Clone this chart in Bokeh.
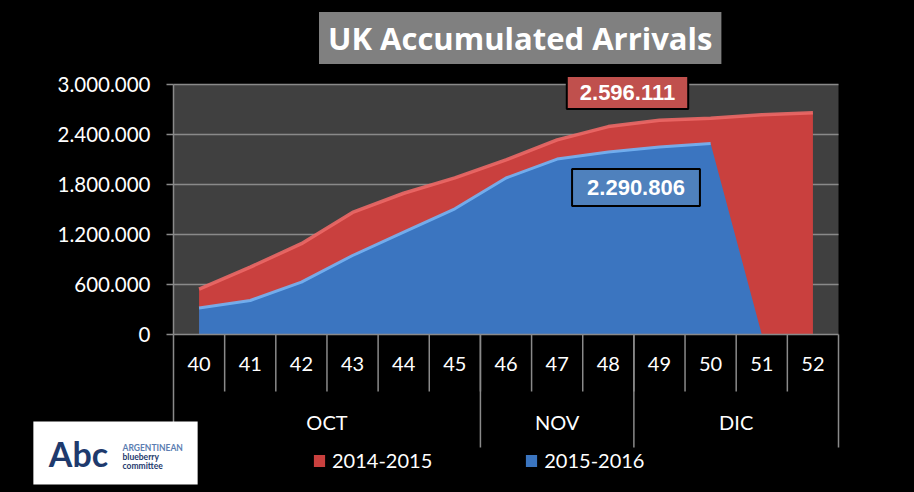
from bokeh.plotting import figure
from bokeh.models import Range1d, FixedTicker, CustomJSTickFormatter, Label
from bokeh.core.properties import value
from bokeh.embed import file_html
from bokeh.resources import INLINE

# ---------------- data ----------------
weeks = ["40", "41", "42", "43", "44", "45", "46", "47", "48", "49", "50", "51", "52"]
months = ["OCT", "NOV", "DIC"]
weeks_per_month = [6, 3, 4]
series_names = ["2014-2015", "2015-2016"]
season_2014_2015 = [545000, 808000, 1090000, 1465000, 1695000, 1880000, 2095000,
                    2335000, 2495000, 2572000, 2596111, 2636000, 2660000]
season_2015_2016 = [318000, 408000, 628000, 948000, 1228000, 1508000, 1878000,
                    2105000, 2190000, 2250000, 2290806, 0, None]
y_ticks = [0, 600000, 1200000, 1800000, 2400000, 3000000]
y_tick_labels = ["0", "600.000", "1.200.000", "1.800.000", "2.400.000", "3.000.000"]
title_text = "UK Accumulated Arrivals"
callout_week = "50"

# ---------------- style / layout ----------------
RED = "#C9403E"
RED_HI = "#EC6866"
BLUE = "#3B75C0"
BLUE_HI = "#74B4F4"
GRID = "#8A8A8A"
PLOT_BG = "#404040"
FONT = "Lato"

W, H = 914, 492
CAT_W = 51.154          # px per week category
Y_PER_PX = 12000        # data units per px
REF_LEFT, REF_ZERO = 173, 334   # pixel of x=-0.5 and of y=0


def dx(px):
    return (px - REF_LEFT) / CAT_W - 0.5


def dy(py):
    return (REF_ZERO - py) * Y_PER_PX


n = len(weeks)
x_lo, x_hi = -0.5, n - 0.5
p = figure(width=W, height=H,
           x_range=Range1d(dx(0), dx(W)), y_range=Range1d(dy(H), dy(0)),
           x_axis_location=None, toolbar_location=None, output_backend="svg",
           min_border=0, background_fill_color="black", border_fill_color="black",
           outline_line_color=None)

# plot-area background
p.quad(left=x_lo, right=x_hi, bottom=0, top=y_ticks[-1], fill_color=PLOT_BG,
       line_color=None, level="image")

# y axis (placed at the category axis start)
p.yaxis.fixed_location = x_lo
p.yaxis.ticker = FixedTicker(ticks=y_ticks)
p.yaxis.formatter = CustomJSTickFormatter(
    args=dict(tvals=y_ticks, tlabels=y_tick_labels),
    code="const i = tvals.indexOf(tick); return i < 0 ? '' : tlabels[i];")
p.yaxis.axis_line_color = None
p.yaxis.major_tick_line_color = GRID
p.yaxis.major_tick_line_width = 1.5
p.yaxis.major_tick_out = 7
p.yaxis.major_tick_in = 0
p.yaxis.minor_tick_line_color = None
p.yaxis.major_label_text_color = "white"
p.yaxis.major_label_text_font = FONT
p.yaxis.major_label_text_font_size = "20.5px"
p.yaxis.major_label_standoff = 16
p.ygrid.grid_line_color = None
p.xgrid.grid_line_color = None

# horizontal grid lines inside the plot area
g_ticks = y_ticks[1:]
p.segment(x0=[x_lo] * len(g_ticks), y0=g_ticks, x1=[x_hi] * len(g_ticks), y1=g_ticks,
          line_color=GRID, line_width=1.5)

# areas
idx = list(range(n))
p.varea(x=idx, y1=0, y2=season_2014_2015, fill_color=RED, legend_label=series_names[0])
b_idx = [i for i, v in enumerate(season_2015_2016) if v is not None]
b_val = [season_2015_2016[i] for i in b_idx]
p.varea(x=b_idx, y1=0, y2=b_val, fill_color=BLUE, legend_label=series_names[1])

# bevel highlights along the tops
p.line(idx, season_2014_2015, line_color=RED_HI, line_width=3.5, line_alpha=0.9)
top_b = [i for i in b_idx if season_2015_2016[i] > 0]
p.line(top_b, [season_2015_2016[i] for i in top_b], line_color=BLUE_HI,
       line_width=3, line_alpha=0.9)

# axis lines
p.segment(x0=[x_lo], y0=[0], x1=[x_hi], y1=[0], line_color=GRID, line_width=1.5)
p.segment(x0=[x_lo], y0=[0], x1=[x_lo], y1=[y_ticks[-1]], line_color=GRID, line_width=1.5)

# category axis (two levels)
short_x = [i + 0.5 for i in range(n - 1)]
p.segment(x0=short_x, y0=[0] * len(short_x), x1=short_x, y1=[dy(391)] * len(short_x),
          line_color=GRID, line_width=1.5)
bounds = [x_lo]
for c in weeks_per_month:
    bounds.append(bounds[-1] + c)
p.segment(x0=bounds, y0=[0] * len(bounds), x1=bounds, y1=[dy(447)] * len(bounds),
          line_color=GRID, line_width=1.5)
p.text(x=idx, y=[dy(363)] * n, text=weeks, text_color="white", text_font=value(FONT),
       text_font_size="20px", text_align="center", text_baseline="middle")
m_centers = [(bounds[i] + bounds[i + 1]) / 2 for i in range(len(months))]
p.text(x=m_centers, y=[dy(421)] * len(months), text=months, text_color="white",
       text_font=value(FONT), text_font_size="20px", text_align="center",
       text_baseline="middle")

# legend
lg = p.legend[0]
lg.orientation = "horizontal"
lg.location = (312, 20)
lg.background_fill_alpha = 0
lg.border_line_alpha = 0
lg.label_text_color = "white"
lg.label_text_font = FONT
lg.label_text_font_size = "20px"
lg.glyph_width = 14
lg.glyph_height = 15
lg.label_standoff = 6
lg.spacing = 92
lg.padding = 0
lg.margin = 0

# title
p.add_layout(Label(x=dx(519.7), y=dy(37.5), text=title_text, text_font="Open Sans",
                   text_font_style="bold", text_font_size="31px", text_color="white",
                   text_align="center", text_baseline="middle",
                   background_fill_color="#808080",
                   padding=dict(left=9, right=9, top=5, bottom=5)))

# callouts
ci = weeks.index(callout_week)


def fmt(v):
    return f"{v:,}".replace(",", ".")


p.add_layout(Label(x=dx(627), y=dy(92), text=fmt(season_2014_2015[ci]),
                   text_font="Liberation Sans", text_font_style="bold",
                   text_font_size="22px", text_color="white", text_align="center",
                   text_baseline="middle", background_fill_color="#C0504D",
                   border_line_color="black", border_line_width=2,
                   padding=dict(left=13, right=13, top=9, bottom=9)))
p.add_layout(Label(x=dx(635.5), y=dy(187), text=fmt(season_2015_2016[ci]),
                   text_font="Liberation Sans", text_font_style="bold",
                   text_font_size="22px", text_color="white", text_align="center",
                   text_baseline="middle", background_fill_color="#4F81BD",
                   border_line_color="black", border_line_width=2,
                   padding=dict(left=15, right=15, top=11, bottom=11)))

# logo
p.add_layout(Label(x=dx(115), y=dy(452.5), text=" ", text_font_size="1px",
                   text_align="center", text_baseline="middle",
                   background_fill_color="white",
                   padding=dict(left=82, right=82, top=31, bottom=31)))
p.add_layout(Label(x=dx(78), y=dy(453), text="Abc", text_font=FONT,
                   text_font_style="bold", text_font_size="34px", text_color="#1E3A6D",
                   text_align="center", text_baseline="middle"))
for txt, ypx, col in [("ARGENTINEAN", 447.3, "#5B7DB1"), ("blueberry", 456.5, "#1E3A6D"),
                      ("committee", 465.3, "#1E3A6D")]:
    p.add_layout(Label(x=dx(122), y=dy(ypx), text=txt, text_font=FONT,
                       text_font_style="bold", text_font_size="8.5px", text_color=col,
                       text_align="left", text_baseline="middle"))

html = file_html(p, INLINE).replace("<body>", '<body style="background:#000000;">')
open("out.html", "w").write(html)
